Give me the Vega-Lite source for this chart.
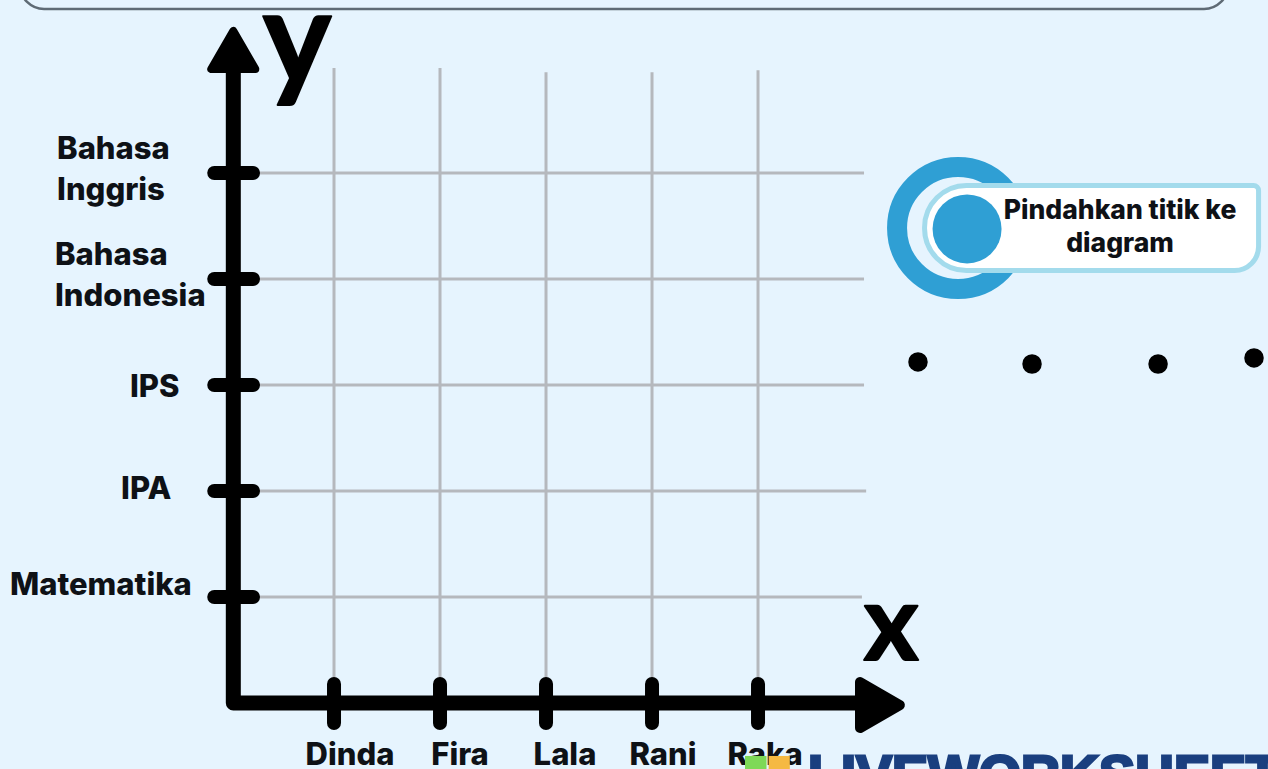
{
"$schema":"https://vega.github.io/schema/vega-lite/v6.json",
"autosize":{"type":"fit","contains":"padding"},
"width":1268,"height":769,"padding":0,
"background":"#E6F4FE",
"config":{"view":{"stroke":null}},
"datasets":{
"panel":[{"x":-1.962,"x2":9.434,"y":6.547,"y2":7}],
"gridSiswa":[{"nama":"Dinda","x":1,"y":0,"y2":5.99},{"nama":"Fira","x":2,"y":0,"y2":5.99},{"nama":"Lala","x":3,"y":0,"y2":5.95},{"nama":"Rani","x":4,"y":0,"y2":5.95},{"nama":"Raka","x":5,"y":0,"y2":5.97}],
"gridMapel":[{"mapel":"Matematika","x":0.05,"x2":5.98,"y":1},{"mapel":"IPA","x":0.05,"x2":6.02,"y":2},{"mapel":"IPS","x":0.05,"x2":6,"y":3},{"mapel":"Bahasa Indonesia","x":0.05,"x2":6,"y":4},{"mapel":"Bahasa Inggris","x":0.05,"x2":6,"y":5}],
"tickSiswa":[{"nama":"Dinda","x":1,"y":-0.19,"y2":0.18},{"nama":"Fira","x":2,"y":-0.19,"y2":0.18},{"nama":"Lala","x":3,"y":-0.19,"y2":0.18},{"nama":"Rani","x":4,"y":-0.19,"y2":0.18},{"nama":"Raka","x":5,"y":-0.19,"y2":0.18}],
"tickMapel":[{"mapel":"Matematika","x":-0.13,"x2":0.236,"y":1},{"mapel":"IPA","x":-0.13,"x2":0.236,"y":2},{"mapel":"IPS","x":-0.13,"x2":0.236,"y":3},{"mapel":"Bahasa Indonesia","x":-0.13,"x2":0.236,"y":4},{"mapel":"Bahasa Inggris","x":-0.13,"x2":0.236,"y":5}],
"labelSiswa":[{"teks":"Dinda","x":1.151,"y":-0.5},{"teks":"Fira","x":2.189,"y":-0.5},{"teks":"Lala","x":3.179,"y":-0.5},{"teks":"Rani","x":4.104,"y":-0.5},{"teks":"Raka","x":5.066,"y":-0.5}],
"labelMapel":[{"teks":"Matematika","x":-2.057,"y":1.1},{"teks":"IPA","x":-1.009,"y":2.01},{"teks":"IPS","x":-0.925,"y":2.975},{"teks":"Bahasa\nIndonesia","x":-1.632,"y":4.22},{"teks":"Bahasa\nInggris","x":-1.613,"y":5.22}],
"sumbu":[{"x":0.05,"y":6.05,"urutan":1},{"x":0.05,"y":0,"urutan":2},{"x":6.1,"y":0,"urutan":3}],
"panahAtas":[{"x":0.05,"y":6.16}],
"panahKanan":[{"x":6.15,"y":-0.02}],
"cincin":[{"x":6.887,"y":4.481}],
"kotak":[{"x":6.571,"x2":9.722,"y":4.08,"y2":4.882}],
"bulat":[{"x":6.972,"y":4.472}],
"titik":[{"x":6.509,"y":3.217},{"x":7.585,"y":3.198},{"x":8.774,"y":3.198},{"x":9.679,"y":3.255}],
"instruksi":[{"x":8.415,"y":4.64,"teks":"Pindahkan titik ke\ndiagram"}],
"hurufY":[{"x":0.651,"y":5.85,"teks":"y"}],
"hurufX":[{"x":6.255,"y":0.406,"teks":"x"}],
"ikon":[{"x":4.877,"x2":5.08,"y":-0.7,"y2":-0.5,"warna":"#7ed957"},{"x":5.1,"x2":5.3,"y":-0.7,"y2":-0.5,"warna":"#f5b942"}],
"logo":[{"x":5.472,"y":-0.849,"teks":"LIVEWORKSHEETS"}]
},
"encoding":{
"x":{"field":"x","type":"quantitative","scale":{"domain":[-2.151,9.811],"nice":false,"zero":false},"axis":null},
"y":{"field":"y","type":"quantitative","scale":{"domain":[-0.623,6.632],"nice":false,"zero":false},"axis":null}
},
"layer":[
{"data":{"name":"panel"},"mark":{"type":"rect","clip":true,"fill":"#E6F4FE","stroke":"#5f6b75","strokeWidth":2.5,"cornerRadius":28},"encoding":{"x2":{"field":"x2"},"y2":{"field":"y2"}}},
{"data":{"name":"gridSiswa"},"mark":{"type":"rule","color":"#b5b8bd","strokeWidth":3},"encoding":{"y2":{"field":"y2"}}},
{"data":{"name":"gridMapel"},"mark":{"type":"rule","color":"#b5b8bd","strokeWidth":3},"encoding":{"x2":{"field":"x2"}}},
{"data":{"name":"sumbu"},"mark":{"type":"line","color":"#000000","strokeWidth":15,"strokeCap":"round","strokeJoin":"round"},"encoding":{"order":{"field":"urutan","type":"ordinal"}}},
{"data":{"name":"tickSiswa"},"mark":{"type":"rule","color":"#000000","strokeWidth":14,"strokeCap":"round"},"encoding":{"y2":{"field":"y2"}}},
{"data":{"name":"tickMapel"},"mark":{"type":"rule","color":"#000000","strokeWidth":14,"strokeCap":"round"},"encoding":{"x2":{"field":"x2"}}},
{"data":{"name":"panahAtas"},"mark":{"type":"point","shape":"triangle-up","filled":true,"fill":"#000000","stroke":"#000000","strokeWidth":8,"strokeJoin":"round","size":1936,"opacity":1},"encoding":{}},
{"data":{"name":"panahKanan"},"mark":{"type":"point","shape":"triangle-right","filled":true,"fill":"#000000","stroke":"#000000","strokeWidth":10,"strokeJoin":"round","size":2116,"opacity":1},"encoding":{}},
{"data":{"name":"labelSiswa"},"mark":{"type":"text","clip":true,"font":"Inter","fontWeight":800,"fontSize":31,"align":"center","baseline":"middle","color":"#0e1116"},"encoding":{"text":{"field":"teks"}}},
{"data":{"name":"labelMapel"},"mark":{"type":"text","font":"Inter","fontWeight":800,"fontSize":31,"lineHeight":41,"lineBreak":"\n","align":"left","baseline":"middle","color":"#0e1116"},"encoding":{"text":{"field":"teks"}}},
{"data":{"name":"cincin"},"mark":{"type":"point","shape":"circle","filled":true,"fill":"#E6F4FE","stroke":"#2f9fd4","strokeWidth":20,"size":14884,"opacity":1},"encoding":{}},
{"data":{"name":"kotak"},"mark":{"type":"rect","fill":"#ffffff","stroke":"#a3dbec","strokeWidth":5,"cornerRadiusTopLeft":42,"cornerRadiusBottomLeft":42,"cornerRadiusTopRight":5,"cornerRadiusBottomRight":24},"encoding":{"x2":{"field":"x2"},"y2":{"field":"y2"}}},
{"data":{"name":"bulat"},"mark":{"type":"point","shape":"circle","filled":true,"fill":"#2f9fd4","size":4761,"opacity":1},"encoding":{}},
{"data":{"name":"titik"},"mark":{"type":"point","shape":"circle","filled":true,"fill":"#000000","size":380,"opacity":1},"encoding":{}},
{"data":{"name":"instruksi"},"mark":{"type":"text","font":"Inter","fontWeight":800,"fontSize":26.5,"lineHeight":33,"lineBreak":"\n","align":"center","baseline":"middle","color":"#0e1116"},"encoding":{"text":{"field":"teks"}}},
{"data":{"name":"hurufY"},"mark":{"type":"text","clip":true,"font":"Lato","fontWeight":700,"fontSize":130,"align":"center","baseline":"alphabetic","color":"#000000","stroke":"#000000","strokeWidth":2,"strokeJoin":"round"},"encoding":{"text":{"field":"teks"}}},
{"data":{"name":"hurufX"},"mark":{"type":"text","clip":true,"font":"Lato","fontWeight":700,"fontSize":105,"align":"center","baseline":"alphabetic","color":"#000000","stroke":"#000000","strokeWidth":2,"strokeJoin":"round"},"encoding":{"text":{"field":"teks"}}},
{"data":{"name":"ikon"},"mark":{"type":"rect","clip":true},"encoding":{"x2":{"field":"x2"},"y2":{"field":"y2"},"color":{"field":"warna","type":"nominal","scale":null,"legend":null}}},
{"data":{"name":"logo"},"mark":{"type":"text","clip":true,"font":"Liberation Sans","fontWeight":700,"fontSize":54,"align":"left","baseline":"alphabetic","color":"#1a3f7f","stroke":"#1a3f7f","strokeWidth":3},"encoding":{"text":{"field":"teks"}}}
]
}
